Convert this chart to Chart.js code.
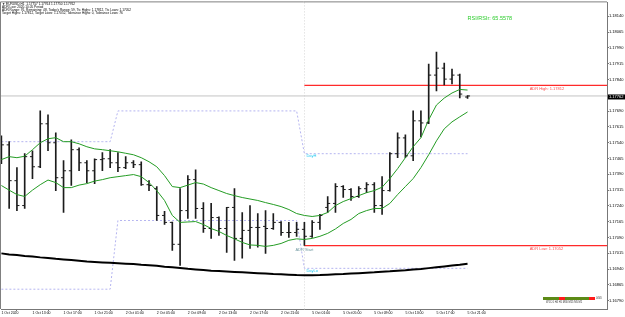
<!DOCTYPE html>
<html>
<head>
<meta charset="utf-8">
<title>EURUSD,H1</title>
<script src="https://cdn.jsdelivr.net/npm/chart.js@4.4.0/dist/chart.umd.min.js"></script>
<style>
  html, body { margin: 0; padding: 0; background: #fff; }
  #wrap { width: 625px; height: 317px; }
</style>
</head>
<body>
<div id="wrap"><canvas id="chart" width="625" height="317"></canvas></div>
<script>
// EURUSD H1 bars, 1 Oct 09:00 .. 5 Oct 21:00
const opens = [1.17521, 1.17530, 1.17360, 1.17242, 1.17474, 1.17426, 1.17630, 1.17540, 1.17374, 1.17407,
  1.17507, 1.17445, 1.17407, 1.17460, 1.17464, 1.17445, 1.17422, 1.17445, 1.17436, 1.17341,
  1.17322, 1.17195, 1.17162, 1.17058, 1.17218, 1.17365, 1.17228, 1.17133, 1.17185, 1.17133,
  1.17233, 1.17086, 1.17124, 1.17138, 1.17143, 1.17133, 1.17162, 1.17114, 1.17114, 1.17129,
  1.17096, 1.17162, 1.17233, 1.17252, 1.17332, 1.17318, 1.17285, 1.17322, 1.17341, 1.17242,
  1.17313, 1.17488, 1.17563, 1.17478, 1.17644, 1.17634, 1.17861, 1.17894, 1.17842, 1.17861,
  1.17757];
const highs = [1.17573, 1.17545, 1.17422, 1.17488, 1.17502, 1.17691, 1.17672, 1.17587, 1.17455, 1.17554,
  1.17516, 1.17455, 1.17464, 1.17493, 1.17507, 1.17493, 1.17474, 1.17455, 1.17450, 1.17360,
  1.17332, 1.17214, 1.17164, 1.17322, 1.17384, 1.17412, 1.17256, 1.17252, 1.17188, 1.17233,
  1.17322, 1.17209, 1.17242, 1.17204, 1.17218, 1.17204, 1.17166, 1.17162, 1.17162, 1.17162,
  1.17171, 1.17200, 1.17285, 1.17346, 1.17337, 1.17322, 1.17332, 1.17351, 1.17351, 1.17379,
  1.17493, 1.17587, 1.17578, 1.17691, 1.17691, 1.17913, 1.17970, 1.17918, 1.17890, 1.17866,
  1.17764];
const lows = [1.17441, 1.17228, 1.17218, 1.17228, 1.17370, 1.17422, 1.17502, 1.17313, 1.17209, 1.17337,
  1.17407, 1.17351, 1.17346, 1.17407, 1.17422, 1.17403, 1.17417, 1.17422, 1.17337, 1.17313,
  1.17171, 1.17152, 1.17029, 1.16958, 1.17181, 1.17181, 1.17114, 1.17086, 1.17100, 1.17020,
  1.16982, 1.16992, 1.17039, 1.17044, 1.17015, 1.17129, 1.17100, 1.17091, 1.17096, 1.17053,
  1.17091, 1.17129, 1.17209, 1.17209, 1.17280, 1.17266, 1.17280, 1.17303, 1.17209, 1.17200,
  1.17310, 1.17469, 1.17469, 1.17455, 1.17568, 1.17630, 1.17786, 1.17814, 1.17819, 1.17753,
  1.17750];
const closes = [1.17530, 1.17360, 1.17242, 1.17474, 1.17426, 1.17630, 1.17540, 1.17374, 1.17407, 1.17507,
  1.17445, 1.17407, 1.17460, 1.17464, 1.17445, 1.17422, 1.17445, 1.17436, 1.17341, 1.17337,
  1.17195, 1.17162, 1.17058, 1.17218, 1.17365, 1.17228, 1.17133, 1.17185, 1.17133, 1.17233,
  1.17086, 1.17124, 1.17138, 1.17138, 1.17133, 1.17162, 1.17114, 1.17114, 1.17129, 1.17096,
  1.17162, 1.17195, 1.17252, 1.17332, 1.17318, 1.17285, 1.17322, 1.17341, 1.17242, 1.17313,
  1.17488, 1.17563, 1.17478, 1.17644, 1.17634, 1.17861, 1.17894, 1.17842, 1.17861, 1.17771,
  1.17762];

// green channel (upper / lower)
const upperBand = [1.17460, 1.17474, 1.17469, 1.17476, 1.17507, 1.17540, 1.17559, 1.17564, 1.17545, 1.17545,
  1.17535, 1.17521, 1.17511, 1.17507, 1.17502, 1.17497, 1.17490, 1.17483, 1.17469, 1.17450,
  1.17426, 1.17384, 1.17332, 1.17327, 1.17339, 1.17351, 1.17344, 1.17327, 1.17313, 1.17299,
  1.17289, 1.17280, 1.17273, 1.17266, 1.17256, 1.17247, 1.17237, 1.17223, 1.17204, 1.17195,
  1.17190, 1.17195, 1.17209, 1.17242, 1.17261, 1.17275, 1.17289, 1.17303, 1.17313, 1.17329,
  1.17370, 1.17417, 1.17469, 1.17521, 1.17564, 1.17649, 1.17719, 1.17752, 1.17776, 1.17793,
  1.17790];
const lowerBand = [1.17337, 1.17315, 1.17294, 1.17285, 1.17315, 1.17341, 1.17363, 1.17351, 1.17327, 1.17327,
  1.17339, 1.17346, 1.17358, 1.17365, 1.17374, 1.17379, 1.17384, 1.17389, 1.17379, 1.17351,
  1.17313, 1.17266, 1.17195, 1.17162, 1.17164, 1.17166, 1.17152, 1.17133, 1.17119, 1.17100,
  1.17084, 1.17067, 1.17055, 1.17053, 1.17048, 1.17053, 1.17062, 1.17077, 1.17084, 1.17081,
  1.17086, 1.17096, 1.17110, 1.17131, 1.17157, 1.17176, 1.17204, 1.17218, 1.17228, 1.17228,
  1.17252, 1.17294, 1.17332, 1.17370, 1.17422, 1.17483, 1.17549, 1.17606, 1.17639, 1.17663,
  1.17686];

// slow black moving average
const slowMa = [1.17015, 1.17010, 1.17007, 1.17003, 1.17000, 1.16996, 1.16993, 1.16989, 1.16986, 1.16983,
  1.16980, 1.16976, 1.16974, 1.16972, 1.16970, 1.16968, 1.16966, 1.16964, 1.16961, 1.16959,
  1.16956, 1.16952, 1.16949, 1.16946, 1.16942, 1.16939, 1.16936, 1.16933, 1.16931, 1.16929,
  1.16927, 1.16925, 1.16923, 1.16921, 1.16919, 1.16917, 1.16916, 1.16914, 1.16912, 1.16911,
  1.16911, 1.16912, 1.16914, 1.16916, 1.16917, 1.16919, 1.16921, 1.16923, 1.16925, 1.16928,
  1.16930, 1.16933, 1.16935, 1.16938, 1.16941, 1.16945, 1.16949, 1.16953, 1.16957, 1.16961,
  1.16966];

// previous-day high / low steps (first bar of each day)
const dayStarts = [0, 15, 39];
const dayHighs = [1.17545, 1.17691, 1.17488];
const dayLows = [1.16845, 1.17171, 1.16944];

const adrHigh = 1.17812;
const adrLow = 1.17052;
const rsiText = 'RSI/RSIr: 65.5578';

const xTickIdx = [0, 4, 8, 12, 16, 20, 24, 28, 32, 36, 40, 44, 48, 52, 56, 60];
const xTickText = ['1 Oct 2020', '1 Oct 13:00', '1 Oct 17:00', '1 Oct 21:00', '2 Oct 01:00', '2 Oct 05:00',
  '2 Oct 09:00', '2 Oct 13:00', '2 Oct 17:00', '2 Oct 21:00', '5 Oct 01:00', '5 Oct 05:00',
  '5 Oct 09:00', '5 Oct 13:00', '5 Oct 17:00', '5 Oct 21:00'];
const yTickValues = [1.18140, 1.18065, 1.17990, 1.17915, 1.17840, 1.17765, 1.17690, 1.17615, 1.17540,
  1.17465, 1.17390, 1.17315, 1.17240, 1.17165, 1.17090, 1.17015, 1.16940, 1.16865, 1.16790];

const headerLines = [
  '\u25BC EURUSD,H1  1.17757 1.17764 1.17750 1.17762',
  'ADR Low: 2020.10.05 Period',
  'ADR Range: 76, Remaining: 48, Today\'s Range: 59, Ttc Highs: 1.17812, Ttc Lows: 1.17052',
  'Target Highs: 1.17812, Target Lows: 1.17052, Tolerance Highs: 0, Tolerance Lows: 76'
];

const X_MIN = -0.05, X_MAX = 77.95;
const Y_MIN = 1.16751, Y_MAX = 1.18206;
const FONT = '"Liberation Sans", Arial, sans-serif';
const bid = closes[closes.length - 1];
const adrStart = dayStarts[dayStarts.length - 1];

function stepLine(values) {
  const pts = [];
  for (let i = 0; i < closes.length; i++) {
    let d = 0;
    for (let k = 0; k < dayStarts.length; k++) if (i >= dayStarts[k]) d = k;
    pts.push({ x: i, y: values[d] });
  }
  return pts;
}

const series = arr => arr.map((v, i) => ({ x: i, y: v }));

const ohlcPlugin = {
  id: 'ohlcDecor',
  beforeDatasetsDraw(chart) {
    const { ctx, chartArea, scales: { x } } = chart;
    // period separator
    const xs = Math.round(x.getPixelForValue(adrStart)) + 0.5;
    ctx.save();
    ctx.strokeStyle = '#d6d6d6';
    ctx.lineWidth = 1;
    ctx.setLineDash([1, 2]);
    ctx.beginPath();
    ctx.moveTo(xs, chartArea.top);
    ctx.lineTo(xs, chartArea.bottom);
    ctx.stroke();
    ctx.restore();
  },
  afterDatasetsDraw(chart) {
    const { ctx, chartArea, scales: { x, y } } = chart;
    ctx.save();
    // open / close ticks
    ctx.fillStyle = '#1c1c1c';
    for (let i = 0; i < closes.length; i++) {
      const xp = x.getPixelForValue(i);
      ctx.fillRect(xp - 2.5, y.getPixelForValue(opens[i]) - 0.5, 2.5, 1);
      ctx.fillRect(xp, y.getPixelForValue(closes[i]) - 0.5, 2.5, 1);
    }
    // frame (top + left)
    ctx.strokeStyle = '#808080';
    ctx.lineWidth = 1;
    ctx.beginPath();
    ctx.moveTo(chartArea.left - 0.5, chartArea.bottom);
    ctx.lineTo(chartArea.left - 0.5, chartArea.top - 0.5);
    ctx.lineTo(chartArea.right, chartArea.top - 0.5);
    ctx.stroke();

    // labels on the chart
    ctx.textBaseline = 'middle';
    ctx.textAlign = 'left';
    const x0 = x.getPixelForValue(adrStart);
    ctx.font = '4px ' + FONT;
    ctx.fillStyle = '#22c8f0';
    ctx.fillText('DayH', x0 + 2, y.getPixelForValue(dayHighs[2]) + 2.5);
    ctx.fillText('DayLo', x0 + 2, y.getPixelForValue(dayLows[2]) + 2.5);
    ctx.fillStyle = '#6f98a0';
    ctx.textAlign = 'center';
    ctx.fillText('ADR Start', x0, y.getPixelForValue(adrLow) + 4);
    ctx.textAlign = 'left';
    ctx.fillStyle = '#ff4a4a';
    const xl = x.getPixelForValue(68);
    ctx.fillText('ADR High: ' + adrHigh.toFixed(5), xl, y.getPixelForValue(adrHigh) + 3);
    ctx.fillText('ADR Low: ' + adrLow.toFixed(5), xl, y.getPixelForValue(adrLow) + 3);

    ctx.font = '5.5px ' + FONT;
    ctx.fillStyle = '#2ccc2c';
    ctx.fillText(rsiText, x.getPixelForValue(60), chartArea.top + 16);

    // header
    ctx.font = '3.2px ' + FONT;
    ctx.fillStyle = '#000';
    headerLines.forEach((t, k) => ctx.fillText(t, chartArea.left + 1, chartArea.top + 2 + k * 3));

    // bottom-right timeframe strip
    const sx = chartArea.right - 64, sy = chartArea.bottom - 12;
    const segs = [['#5c8a16', 16], ['#ff1a1a', 6], ['#5c8a16', 24], ['#ff1a1a', 6]];
    let cx = sx;
    segs.forEach(([c, w]) => { ctx.fillStyle = c; ctx.fillRect(cx, sy, w, 3); cx += w; });
    ctx.fillStyle = '#333';
    ctx.font = '2.6px ' + FONT;
    ctx.fillText('0/0/0', cx + 1, sy + 1.5);
    ctx.fillText('W1 D1 H4 H1 M30 M15 M5 M1', sx + 3, sy + 5);

    // current price box
    const yb = y.getPixelForValue(bid);
    ctx.fillStyle = '#000';
    ctx.fillRect(chartArea.right + 1, yb - 1.5, 17, 5);
    ctx.fillStyle = '#fff';
    ctx.font = '4px ' + FONT;
    ctx.fillText(bid.toFixed(5), chartArea.right + 2, yb + 1);
    ctx.restore();
  }
};

const ctx = document.getElementById('chart').getContext('2d');
new Chart(ctx, {
  type: 'line',
  data: {
    datasets: [
      { type: 'line', data: [{ x: X_MIN, y: bid }, { x: X_MAX, y: bid }], borderColor: '#c4c4c4', borderWidth: 1, pointRadius: 0, order: 9 },
      { type: 'line', data: stepLine(dayHighs), borderColor: '#b4b4f0', borderWidth: 1, borderDash: [2, 2], pointRadius: 0, order: 8 },
      { type: 'line', data: stepLine(dayLows), borderColor: '#b4b4f0', borderWidth: 1, borderDash: [2, 2], pointRadius: 0, order: 8 },
      { type: 'line', data: [{ x: adrStart, y: adrHigh }, { x: X_MAX, y: adrHigh }], borderColor: '#ff2a2a', borderWidth: 1.2, pointRadius: 0, order: 7 },
      { type: 'line', data: [{ x: adrStart, y: adrLow }, { x: X_MAX, y: adrLow }], borderColor: '#ff2a2a', borderWidth: 1.2, pointRadius: 0, order: 7 },
      {
        type: 'bar',
        data: lows.map((l, i) => ({ x: i, y: [l, highs[i]] })),
        backgroundColor: '#1c1c1c', borderWidth: 0, barThickness: 1, order: 5
      },
      { type: 'line', data: series(upperBand), borderColor: '#249c24', borderWidth: 1, pointRadius: 0, order: 2 },
      { type: 'line', data: series(lowerBand), borderColor: '#249c24', borderWidth: 1, pointRadius: 0, order: 2 },
      { type: 'line', data: series(slowMa), borderColor: '#000', borderWidth: 2, pointRadius: 0, order: 1 }
    ]
  },
  options: {
    responsive: false,
    animation: false,
    devicePixelRatio: 1,
    layout: { padding: { left: 1, top: 1, right: 0, bottom: 0 } },
    plugins: { legend: { display: false }, tooltip: { enabled: false } },
    scales: {
      x: {
        type: 'linear', position: 'bottom', min: X_MIN, max: X_MAX, offset: false,
        grid: { drawOnChartArea: false, drawTicks: true, tickLength: 2, color: '#777' },
        border: { display: true, color: '#777' },
        ticks: {
          font: { size: 3.5, family: FONT }, color: '#000', padding: 0, align: 'start',
          maxRotation: 0, minRotation: 0, autoSkip: false,
          callback: v => { const k = xTickIdx.indexOf(v); return k >= 0 ? xTickText[k] : ''; }
        },
        afterBuildTicks: s => { s.ticks = xTickIdx.map(v => ({ value: v })); },
        afterFit: s => { s.height = 8; }
      },
      y: {
        type: 'linear', position: 'right', min: Y_MIN, max: Y_MAX,
        grid: { drawOnChartArea: false, drawTicks: true, tickLength: 2, color: '#777' },
        border: { display: true, color: '#777' },
        ticks: {
          font: { size: 4, family: FONT }, color: '#000', padding: 0, autoSkip: false,
          callback: v => (Math.abs(v - bid) < 0.0002 ? '' : v.toFixed(5))
        },
        afterBuildTicks: s => { s.ticks = yTickValues.map(v => ({ value: v })); },
        afterFit: s => { s.width = 18; }
      }
    }
  },
  plugins: [ohlcPlugin]
});
</script>
</body>
</html>
